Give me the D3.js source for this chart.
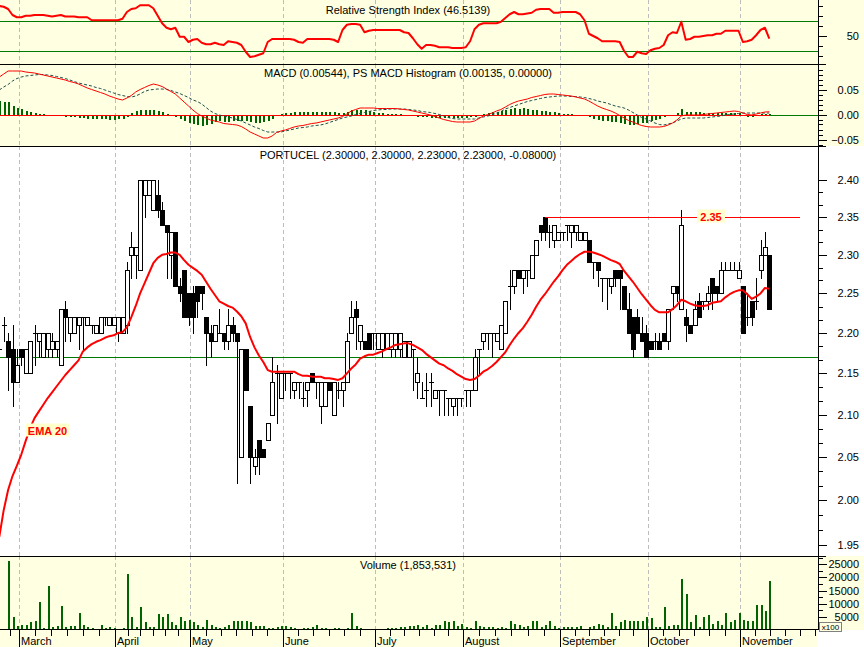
<!DOCTYPE html>
<html><head><meta charset="utf-8">
<script src="https://cdn.jsdelivr.net/npm/d3@7"></script>
<style>
body{margin:0;background:#fff}
svg{display:block}
text{font-family:"Liberation Sans",Arial,sans-serif;font-size:11px;fill:#000}
</style></head><body>
<svg id="c" width="864" height="647"></svg>
<script>
// ---------------- DATA ----------------
const months = ["March","April","May","June","July","August","September","October","November"];
const monthStart = [5,27,44,65,86,106,128,148,169];

const open = [2.18,2.21,2.19,2.18,2.14,2.18,2.15,2.15,2.20,2.19,
2.17,2.18,2.18,2.18,2.16,2.23,2.20,2.20,2.21,2.22,
2.21,2.21,2.20,2.20,2.22,2.21,2.21,2.20,2.20,2.21,
2.30,2.30,2.28,2.38,2.38,2.36,2.38,2.36,2.34,2.30,
2.33,2.26,2.28,2.25,2.25,2.26,2.26,2.22,2.20,2.19,
2.20,2.20,2.19,2.21,2.20,2.05,2.18,2.11,2.04,2.07,
2.06,2.07,2.10,2.15,2.12,2.15,2.15,2.13,2.14,2.12,
2.13,2.15,2.14,2.11,2.11,2.14,2.10,2.13,2.13,2.14,
2.20,2.23,2.19,2.19,2.20,2.20,2.18,2.18,2.18,2.18,
2.18,2.18,2.17,2.17,2.18,2.14,2.12,2.13,2.14,2.12,
2.13,2.13,2.12,2.11,2.12,2.12,2.13,2.13,2.13,2.18,
2.19,2.20,2.20,2.19,2.18,2.20,2.26,2.26,2.28,2.27,
2.28,2.27,2.30,2.34,2.35,2.33,2.32,2.32,2.33,2.34,
2.33,2.33,2.32,2.32,2.32,2.29,2.29,2.27,2.27,2.26,
2.28,2.28,2.26,2.23,2.22,2.22,2.20,2.20,2.19,2.19,
2.19,2.20,2.19,2.25,2.26,2.23,2.22,2.21,2.21,2.24,
2.24,2.24,2.27,2.26,2.25,2.28,2.28,2.28,2.27,2.26,
2.22,2.24,2.24,2.28,2.30,2.30];
const high = [2.20,2.22,2.20,2.21,2.18,2.18,2.18,2.19,2.21,2.20,
2.20,2.20,2.20,2.19,2.23,2.24,2.22,2.22,2.22,2.22,
2.22,2.21,2.21,2.22,2.22,2.22,2.22,2.22,2.22,2.29,
2.33,2.31,2.40,2.40,2.40,2.40,2.40,2.37,2.34,2.33,
2.33,2.27,2.28,2.25,2.26,2.26,2.26,2.22,2.21,2.21,
2.23,2.20,2.23,2.22,2.20,2.18,2.18,2.11,2.06,2.07,
2.06,2.09,2.17,2.16,2.15,2.15,2.15,2.14,2.14,2.14,
2.14,2.15,2.14,2.14,2.14,2.14,2.14,2.14,2.14,2.20,
2.24,2.24,2.21,2.19,2.20,2.20,2.20,2.20,2.20,2.20,
2.20,2.20,2.19,2.19,2.18,2.17,2.14,2.15,2.15,2.13,
2.13,2.13,2.12,2.12,2.12,2.12,2.13,2.13,2.18,2.18,
2.20,2.20,2.20,2.20,2.21,2.24,2.28,2.28,2.28,2.28,
2.28,2.30,2.32,2.34,2.35,2.34,2.34,2.33,2.33,2.34,
2.34,2.34,2.33,2.33,2.32,2.29,2.29,2.27,2.27,2.27,
2.28,2.28,2.26,2.25,2.22,2.23,2.22,2.21,2.19,2.20,
2.20,2.20,2.23,2.26,2.26,2.36,2.23,2.21,2.24,2.25,
2.24,2.26,2.27,2.26,2.29,2.29,2.29,2.29,2.29,2.26,
2.25,2.24,2.27,2.32,2.33,2.30];
const low = [2.17,2.19,2.13,2.11,2.14,2.16,2.15,2.15,2.16,2.17,
2.17,2.17,2.17,2.17,2.16,2.19,2.19,2.20,2.18,2.18,
2.21,2.20,2.20,2.20,2.21,2.21,2.21,2.19,2.20,2.20,
2.27,2.27,2.28,2.35,2.38,2.36,2.35,2.34,2.27,2.27,
2.26,2.24,2.22,2.21,2.20,2.22,2.23,2.16,2.17,2.19,
2.20,2.18,2.18,2.19,2.02,2.05,2.13,2.02,2.03,2.03,
2.05,2.07,2.10,2.09,2.12,2.13,2.12,2.12,2.12,2.11,
2.11,2.14,2.12,2.09,2.11,2.13,2.10,2.12,2.11,2.14,
2.20,2.18,2.18,2.18,2.18,2.18,2.18,2.17,2.18,2.17,
2.17,2.17,2.17,2.17,2.13,2.12,2.12,2.11,2.11,2.12,
2.10,2.10,2.10,2.10,2.10,2.11,2.11,2.11,2.13,2.15,
2.18,2.18,2.17,2.19,2.18,2.20,2.23,2.25,2.27,2.25,
2.26,2.27,2.30,2.32,2.32,2.31,2.31,2.32,2.32,2.32,
2.31,2.32,2.32,2.32,2.29,2.27,2.26,2.24,2.23,2.25,
2.26,2.23,2.23,2.20,2.17,2.20,2.19,2.17,2.18,2.18,
2.18,2.19,2.18,2.23,2.24,2.23,2.19,2.20,2.21,2.22,
2.23,2.23,2.23,2.24,2.25,2.28,2.28,2.28,2.27,2.20,
2.21,2.21,2.23,2.27,2.30,2.23];
const close = [2.18,2.21,2.17,2.14,2.16,2.17,2.18,2.19,2.20,2.20,
2.20,2.20,2.19,2.19,2.23,2.22,2.22,2.22,2.22,2.22,
2.22,2.21,2.21,2.22,2.22,2.22,2.22,2.22,2.22,2.28,
2.31,2.31,2.40,2.40,2.40,2.40,2.36,2.34,2.33,2.33,
2.26,2.25,2.22,2.22,2.22,2.24,2.25,2.20,2.19,2.21,
2.20,2.19,2.21,2.20,2.19,2.18,2.13,2.05,2.05,2.05,
2.05,2.09,2.14,2.15,2.15,2.15,2.15,2.14,2.14,2.12,
2.14,2.14,2.14,2.14,2.14,2.13,2.14,2.13,2.14,2.19,
2.22,2.22,2.21,2.18,2.18,2.20,2.20,2.20,2.20,2.20,
2.20,2.20,2.19,2.19,2.18,2.15,2.12,2.13,2.14,2.13,
2.13,2.13,2.12,2.12,2.12,2.12,2.13,2.13,2.17,2.18,
2.20,2.20,2.20,2.20,2.21,2.24,2.26,2.28,2.27,2.28,
2.28,2.30,2.32,2.33,2.33,2.33,2.34,2.33,2.33,2.34,
2.34,2.34,2.33,2.33,2.29,2.29,2.28,2.27,2.27,2.27,
2.27,2.27,2.23,2.20,2.18,2.20,2.19,2.17,2.18,2.19,
2.18,2.19,2.23,2.26,2.25,2.34,2.21,2.20,2.23,2.22,
2.24,2.25,2.25,2.25,2.28,2.28,2.28,2.28,2.28,2.20,
2.22,2.22,2.24,2.30,2.31,2.23];

const ema20 = [1.959,1.989,2.012,2.028,2.040,2.053,2.069,2.084,2.096,2.104,
2.112,2.120,2.127,2.134,2.141,2.148,2.154,2.160,2.166,2.177,
2.182,2.186,2.189,2.191,2.194,2.196,2.197,2.200,2.201,2.207,
2.220,2.234,2.250,2.263,2.276,2.289,2.296,2.300,2.301,2.303,
2.303,2.300,2.293,2.287,2.283,2.279,2.274,2.265,2.256,2.248,
2.240,2.237,2.234,2.232,2.227,2.221,2.212,2.195,2.182,2.172,
2.164,2.154,2.152,2.152,2.152,2.152,2.152,2.152,2.149,2.147,
2.147,2.146,2.146,2.146,2.144,2.144,2.143,2.142,2.144,2.150,
2.156,2.161,2.168,2.171,2.173,2.173,2.175,2.177,2.180,2.182,
2.185,2.186,2.187,2.187,2.185,2.182,2.179,2.174,2.170,2.166,
2.162,2.160,2.156,2.153,2.149,2.146,2.143,2.142,2.143,2.147,
2.152,2.155,2.159,2.164,2.170,2.176,2.185,2.193,2.200,2.206,
2.214,2.223,2.233,2.242,2.249,2.257,2.265,2.272,2.280,2.287,
2.292,2.297,2.301,2.304,2.304,2.303,2.301,2.299,2.296,2.293,
2.291,2.288,2.279,2.272,2.265,2.257,2.249,2.242,2.235,2.229,
2.226,2.226,2.226,2.230,2.235,2.242,2.240,2.237,2.235,2.234,
2.234,2.235,2.238,2.239,2.240,2.245,2.249,2.252,2.254,2.254,
2.249,2.243,2.246,2.250,2.257,2.256];

const rsi = [90,89,86,78,75,75,77,77,78,78,
78,77,76,77,78,76,76,76,75,75,
75,71,71,71,71,71,71,71,73,82,
86,87,91,91,91,87,77,67,61,59,
61,49,49,42,45,46,41,39,39,41,
39,38,43,42,41,38,29,22,23,25,
27,42,46,46,46,46,46,45,42,41,
46,46,46,46,46,46,45,42,58,65,
66,66,65,55,57,58,58,58,58,58,
58,58,55,54,47,39,33,38,38,37,
35,35,35,34,34,34,35,43,59,65,
67,67,67,67,69,74,79,82,79,79,
80,81,85,86,86,86,81,81,82,82,
82,82,79,71,53,50,47,43,43,43,
43,42,30,22,22,29,27,26,31,33,
34,38,51,55,54,69,45,46,49,49,
50,51,51,53,53,57,57,57,57,42,
43,45,51,58,61,46.5139];

const macd = [0.075,0.081,0.087,0.087,0.087,0.087,0.085,0.084,0.083,0.081,
0.079,0.077,0.075,0.073,0.071,0.069,0.066,0.064,0.061,0.057,
0.053,0.050,0.047,0.044,0.041,0.037,0.034,0.031,0.029,0.033,
0.038,0.045,0.050,0.054,0.058,0.061,0.059,0.056,0.051,0.046,
0.041,0.033,0.025,0.017,0.009,0.002,-0.003,-0.007,-0.011,-0.013,
-0.015,-0.018,-0.019,-0.020,-0.021,-0.024,-0.029,-0.035,-0.039,-0.043,
-0.047,-0.047,-0.043,-0.036,-0.033,-0.031,-0.028,-0.025,-0.023,-0.022,
-0.020,-0.018,-0.017,-0.015,-0.013,-0.011,-0.009,-0.007,-0.004,0.001,
0.007,0.010,0.013,0.013,0.013,0.013,0.012,0.012,0.012,0.012,
0.012,0.011,0.010,0.009,0.007,0.005,0.003,0.001,-0.001,-0.004,
-0.007,-0.010,-0.012,-0.014,-0.015,-0.015,-0.015,-0.015,-0.013,-0.008,
-0.003,0.000,0.003,0.007,0.010,0.015,0.020,0.024,0.027,0.029,
0.031,0.034,0.036,0.038,0.040,0.041,0.041,0.040,0.039,0.038,
0.037,0.035,0.033,0.031,0.027,0.022,0.017,0.013,0.010,0.007,
0.003,-0.002,-0.007,-0.012,-0.015,-0.019,-0.022,-0.024,-0.025,-0.025,
-0.025,-0.024,-0.021,-0.017,-0.011,-0.003,-0.001,-0.001,-0.001,-0.001,
0.000,0.001,0.002,0.003,0.004,0.005,0.006,0.007,0.006,0.003,
0.000,-0.001,0.001,0.003,0.005,0.00544];

const signal = [0.049,0.055,0.060,0.067,0.072,0.075,0.077,0.078,0.079,0.080,
0.080,0.079,0.078,0.076,0.074,0.072,0.069,0.066,0.063,0.061,
0.059,0.057,0.054,0.052,0.049,0.046,0.043,0.040,0.038,0.036,
0.035,0.037,0.041,0.046,0.049,0.050,0.051,0.051,0.050,0.048,
0.045,0.042,0.038,0.034,0.029,0.026,0.021,0.014,0.007,0.002,
-0.001,-0.003,-0.005,-0.007,-0.010,-0.013,-0.017,-0.021,-0.025,-0.028,
-0.032,-0.035,-0.035,-0.035,-0.035,-0.033,-0.031,-0.029,-0.027,-0.026,
-0.025,-0.023,-0.022,-0.021,-0.019,-0.016,-0.013,-0.010,-0.007,-0.005,
-0.003,0.000,0.002,0.004,0.006,0.008,0.009,0.010,0.010,0.011,
0.011,0.011,0.011,0.010,0.009,0.008,0.006,0.005,0.004,0.002,
0.000,-0.003,-0.006,-0.008,-0.009,-0.009,-0.009,-0.009,-0.009,-0.007,
-0.005,-0.003,-0.001,0.003,0.006,0.011,0.014,0.017,0.020,0.023,
0.026,0.028,0.030,0.032,0.034,0.035,0.036,0.037,0.037,0.037,
0.036,0.036,0.035,0.034,0.032,0.030,0.027,0.025,0.023,0.020,
0.017,0.015,0.013,0.009,0.004,-0.001,-0.006,-0.009,-0.013,-0.017,
-0.020,-0.021,-0.019,-0.017,-0.013,-0.009,-0.007,-0.007,-0.007,-0.007,
-0.007,-0.006,-0.005,-0.004,-0.003,-0.001,0.000,0.001,0.002,0.003,
0.003,0.003,0.003,0.003,0.003,0.003];

const hist = [0.028,0.026,0.025,0.018,0.014,0.011,0.008,0.006,0.004,0.002,
0.001,-0.001,-0.002,-0.003,-0.003,-0.004,-0.004,-0.005,-0.006,-0.007,
-0.008,-0.008,-0.008,-0.009,-0.009,-0.010,-0.010,-0.009,-0.008,-0.004,
0.003,0.008,0.010,0.010,0.009,0.010,0.008,0.005,0.001,-0.003,
-0.005,-0.009,-0.013,-0.017,-0.019,-0.021,-0.022,-0.021,-0.018,-0.015,
-0.013,-0.015,-0.014,-0.013,-0.012,-0.012,-0.013,-0.015,-0.016,-0.016,
-0.015,-0.012,-0.008,-0.002,0.002,0.003,0.004,0.005,0.005,0.005,
0.005,0.005,0.005,0.006,0.006,0.006,0.005,0.004,0.004,0.006,
0.009,0.010,0.010,0.009,0.007,0.005,0.004,0.003,0.002,0.002,
0.002,0.001,0.000,-0.001,-0.002,-0.004,-0.004,-0.005,-0.006,-0.006,
-0.007,-0.007,-0.006,-0.006,-0.006,-0.006,-0.006,-0.005,-0.004,-0.001,
0.002,0.003,0.005,0.006,0.008,0.009,0.011,0.014,0.012,0.014,
0.011,0.010,0.009,0.008,0.007,0.006,0.005,0.004,0.002,0.001,
0.001,-0.001,-0.002,-0.003,-0.005,-0.008,-0.010,-0.012,-0.013,-0.014,
-0.015,-0.017,-0.019,-0.020,-0.020,-0.019,-0.017,-0.016,-0.013,-0.010,
-0.008,-0.005,-0.003,-0.001,0.003,0.011,0.006,0.006,0.005,0.005,
0.004,0.004,0.004,0.004,0.004,0.004,0.004,0.004,0.003,0.000,
-0.005,-0.004,-0.002,0.001,0.002,0.00135];

// volume in hundreds of shares (axis "x100")
const volume = [0,0,26200,4700,1500,1900,1900,2800,3500,10800,
600,16900,1100,1500,9000,900,1400,1500,6300,1900,
1100,500,300,1900,500,900,600,300,500,21200,
5000,1100,8600,2800,900,1100,6000,4700,6000,2800,
1900,5000,3200,3800,2800,1900,900,3700,1900,900,
600,900,1900,3500,3500,3200,3200,2800,1500,1300,
1300,500,600,1100,1300,1500,900,500,300,500,
600,900,1900,500,500,300,500,500,300,500,
6300,1500,500,300,300,300,300,300,500,500,
500,900,1100,1300,1500,1900,1100,1900,600,1900,
1900,3500,2800,3200,1500,2400,900,600,3500,1500,
900,1100,900,600,900,600,3200,2200,1900,1100,
1500,3200,3200,1100,1900,3200,1500,600,1100,1100,
900,1100,1500,300,1100,1500,2200,1900,1100,6300,
1500,2800,3700,3200,3200,3200,3200,5000,4500,1100,
900,8800,1500,1900,1900,19500,13500,2800,5700,1100,
4900,5700,2200,3200,1900,6300,2800,3900,6300,3900,
3500,3500,9600,9600,7000,18535];

const priceTicks = [1.95,2.00,2.05,2.10,2.15,2.20,2.25,2.30,2.35,2.40];
const macdTicks = [-0.05,0,0.05];
const rsiTicks = [50];
const rsiLevels = [70,30];
const volTicks = [5000,10000,15000,20000,25000];
const supportLevel = 2.17;
const resistLevel = 2.35;
const resistFrom = 124;   // index where the 2.35 line starts
const resistTo = 182;     // index where it ends

// ---------------- LAYOUT ----------------
const YEL = "#FFFFE1", GREEN = "#006400", LGREEN = "#007A00", RED = "#FF0000";
const PR = 818;            // right edge of plot area / axis
const P = {rsi:[0,64], macd:[64,146], main:[146,556], vol:[556,630]};
const svg = d3.select("#c");
const N = close.length;
const idx = d3.range(N);

const x = d3.scaleLinear().domain([0,186]).range([-0.7, 817.7]);
const yR = d3.scaleLinear().domain([30,70]).range([51,21]);
const yM = d3.scaleLinear().domain([-0.05,0.05]).range([139.5,89.5]);
const yP = d3.scaleLog().domain([1.95,2.40]).range([545,180]);
const yV = d3.scaleLinear().domain([0,25000]).range([629.8,564.3]);
const px = v => Math.round(v) + 0.5;

// backgrounds
svg.append("rect").attr("x",0).attr("y",0).attr("width",864).attr("height",146).attr("fill",YEL);
svg.append("rect").attr("x",0).attr("y",556).attr("width",864).attr("height",74).attr("fill",YEL);
svg.append("rect").attr("x",0).attr("y",630).attr("width",PR).attr("height",17).attr("fill",YEL);

// clip paths
const defs = svg.append("defs");
function clip(id, y0, y1){
  defs.append("clipPath").attr("id",id).append("rect").attr("x",0).attr("y",y0).attr("width",PR).attr("height",y1-y0);
  return "url(#"+id+")";
}
const cR = clip("cR",P.rsi[0],P.rsi[1]), cM = clip("cM",P.macd[0]+1,P.macd[1]),
      cP = clip("cP",P.main[0]+1,P.main[1]), cV = clip("cV",P.vol[0]+1,629.5);

// month grid lines
const monthX = monthStart.map(s => px(x(s - 0.6)));
[[P.rsi[0],P.rsi[1]],[P.macd[0],P.macd[1]],[P.main[0],P.main[1]],[P.vol[0],629]].forEach(([a,b])=>{
  svg.append("g").selectAll("line").data(monthX).join("line")
    .attr("x1",d=>d).attr("x2",d=>d).attr("y1",a).attr("y2",b)
    .attr("stroke","#BDBDBD").attr("stroke-dasharray","4,3");
});

function hline(x1, x2, y, color){
  svg.append("line").attr("x1",x1).attr("x2",x2).attr("y1",px(y)).attr("y2",px(y))
    .attr("stroke",color).attr("stroke-width",1).attr("shape-rendering","crispEdges");
}

// ---------- RSI ----------
rsiLevels.forEach(v => hline(0, PR, yR(v), LGREEN));
svg.append("path").datum(idx).attr("clip-path",cR)
  .attr("d", d3.line().x(i=>x(i)).y(i=>yR(rsi[i])))
  .attr("fill","none").attr("stroke",RED).attr("stroke-width",2).attr("stroke-linejoin","round");
svg.append("text").attr("x",408).attr("y",14).attr("text-anchor","middle").text("Relative Strength Index (46.5139)");

// ---------- MACD ----------
hline(0, PR, yM(0), LGREEN);
const gH = svg.append("g").attr("clip-path",cM).attr("shape-rendering","crispEdges");
gH.selectAll("rect").data(idx).join("rect")
  .attr("x",i=>Math.round(x(i))-0.5).attr("width",2)
  .attr("y",i=>Math.min(yM(0),yM(hist[i]))).attr("height",i=>Math.abs(yM(hist[i])-yM(0)))
  .attr("fill",GREEN);
hline(x(0), x(N-1), yM(0), RED);
svg.append("path").datum(idx).attr("clip-path",cM)
  .attr("d", d3.line().x(i=>x(i)).y(i=>yM(signal[i])))
  .attr("fill","none").attr("stroke","#1E4E4E").attr("stroke-width",1).attr("stroke-dasharray","3,2");
svg.append("path").datum(idx).attr("clip-path",cM)
  .attr("d", d3.line().x(i=>x(i)).y(i=>yM(macd[i])))
  .attr("fill","none").attr("stroke",RED).attr("stroke-width",1);
svg.append("text").attr("x",408).attr("y",77).attr("text-anchor","middle")
  .text("MACD (0.00544), PS MACD Histogram (0.00135, 0.00000)");

// ---------- MAIN PRICE ----------
hline(0, PR, yP(supportLevel), LGREEN);
const gC = svg.append("g").attr("clip-path",cP).attr("shape-rendering","crispEdges");
idx.forEach(i=>{
  const c = Math.round(x(i));
  gC.append("line").attr("x1",c+0.5).attr("x2",c+0.5)
    .attr("y1",Math.round(yP(high[i]))).attr("y2",Math.round(yP(low[i]))+1).attr("stroke","#000");
  if (open[i] === close[i]) {
    const yy = px(yP(open[i]));
    gC.append("line").attr("x1",c-2).attr("x2",c+3).attr("y1",yy).attr("y2",yy).attr("stroke","#000");
  } else {
    const t = Math.round(Math.min(yP(open[i]),yP(close[i])));
    const b = Math.round(Math.max(yP(open[i]),yP(close[i])));
    gC.append("rect").attr("x",c-1.5).attr("y",t+0.5).attr("width",4).attr("height",Math.max(1,b-t))
      .attr("fill", close[i]>open[i] ? "#fff" : "#000").attr("stroke","#000");
  }
});
svg.append("path").datum(idx).attr("clip-path",cP)
  .attr("d", d3.line().x(i=>x(i)).y(i=>yP(ema20[i])))
  .attr("fill","none").attr("stroke",RED).attr("stroke-width",2).attr("stroke-linejoin","round");
// resistance line + labels
hline(x(resistFrom), x(resistTo), yP(resistLevel), RED);
function tag(cx, cy, w, label){
  svg.append("rect").attr("x",cx-w/2).attr("y",cy-7).attr("width",w).attr("height",13).attr("fill","#FFFFCC");
  svg.append("text").attr("x",cx).attr("y",cy+4).attr("text-anchor","middle")
    .style("font-weight","bold").style("font-size","11px").style("fill",RED).text(label);
}
tag(711, yP(resistLevel)-0.5, 28, "2.35");
tag(47.5, 430.5, 43, "EMA 20");
svg.append("text").attr("x",408).attr("y",159).attr("text-anchor","middle")
  .text("PORTUCEL (2.30000, 2.30000, 2.23000, 2.23000, -0.08000)");

// ---------- VOLUME ----------
svg.append("g").attr("clip-path",cV).attr("shape-rendering","crispEdges")
  .selectAll("rect").data(idx.filter(i=>volume[i]>0)).join("rect")
  .attr("x",i=>Math.round(x(i))-0.5).attr("width",2)
  .attr("y",i=>yV(volume[i])).attr("height",i=>yV(0)-yV(volume[i]))
  .attr("fill",GREEN);
svg.append("text").attr("x",408).attr("y",569).attr("text-anchor","middle").text("Volume (1,853,531)");

// ---------- PANEL BORDERS ----------
[P.rsi[1],P.macd[1],P.main[1]].forEach(y=> hline(0, 826, y, "#000"));
hline(0, PR, 629, "#000");
svg.append("line").attr("x1",PR+0.5).attr("x2",PR+0.5).attr("y1",0).attr("y2",630).attr("stroke","#000");

// ---------- RIGHT AXES ----------
function rightAxis(scale, majors, minors, fmt, y0, y1){
  const g = svg.append("g").attr("shape-rendering","crispEdges");
  minors.filter(v=>{const y=scale(v); return y>y0+1 && y<y1-1;}).forEach(v=>{
    g.append("line").attr("x1",PR).attr("x2",PR+5).attr("y1",px(scale(v))).attr("y2",px(scale(v))).attr("stroke","#000");
  });
  majors.forEach(v=>{
    const y = px(scale(v));
    g.append("line").attr("x1",PR).attr("x2",PR+9).attr("y1",y).attr("y2",y).attr("stroke","#000");
    g.append("text").attr("x",859).attr("y",y).attr("dy","0.36em").attr("text-anchor","end").text(fmt(v));
  });
}
rightAxis(yR, rsiTicks, d3.range(-3,4).map(k=>50+k*40/3), d=>d.toString(), P.rsi[0], P.rsi[1]);
rightAxis(yM, macdTicks, d3.range(-6,11).map(k=>k/100), d3.format(".2f"), P.macd[0], P.macd[1]);
rightAxis(yP, priceTicks, d3.range(0,28).map(k=>+(1.95+k*0.05/3).toFixed(4)), d3.format(".2f"), P.main[0], P.main[1]);
rightAxis(yV, volTicks, d3.range(1,12).map(k=>k*2500), d=>d.toString(), P.vol[0], 629);
// x100 box (sits just under the 5000 label)
svg.append("rect").attr("x",819.5).attr("y",622.5).attr("width",22).attr("height",9).attr("fill",YEL).attr("stroke","#808080");
svg.append("text").attr("x",830.5).attr("y",630).attr("text-anchor","middle").style("font-size","8px").text("x100");

// ---------- BOTTOM TIME AXIS ----------
const gX = svg.append("g").attr("shape-rendering","crispEdges");
monthX.forEach((mx,k)=>{
  gX.append("line").attr("x1",mx).attr("x2",mx).attr("y1",630).attr("y2",647).attr("stroke","#000");
  gX.append("text").attr("x",mx+1.5).attr("y",645).text(months[k]);
});
// minor (roughly 5-day) ticks: each month split in six
const bounds = monthStart.map(s=>s-0.6).concat([monthStart[monthStart.length-1]-0.6+20.5]);
const minor = [monthStart[0]-0.6-2];
for (let k=0;k<bounds.length-1;k++){
  const a=bounds[k], b=bounds[k+1];
  for (let j=1;j<6;j++) minor.push(a + j*(b-a)/6);
}
gX.selectAll("line.m").data(minor.filter(v=>x(v)<PR-2)).join("line").attr("class","m")
  .attr("x1",d=>px(x(d))).attr("x2",d=>px(x(d))).attr("y1",630).attr("y2",636).attr("stroke","#000");
</script>
</body></html>
